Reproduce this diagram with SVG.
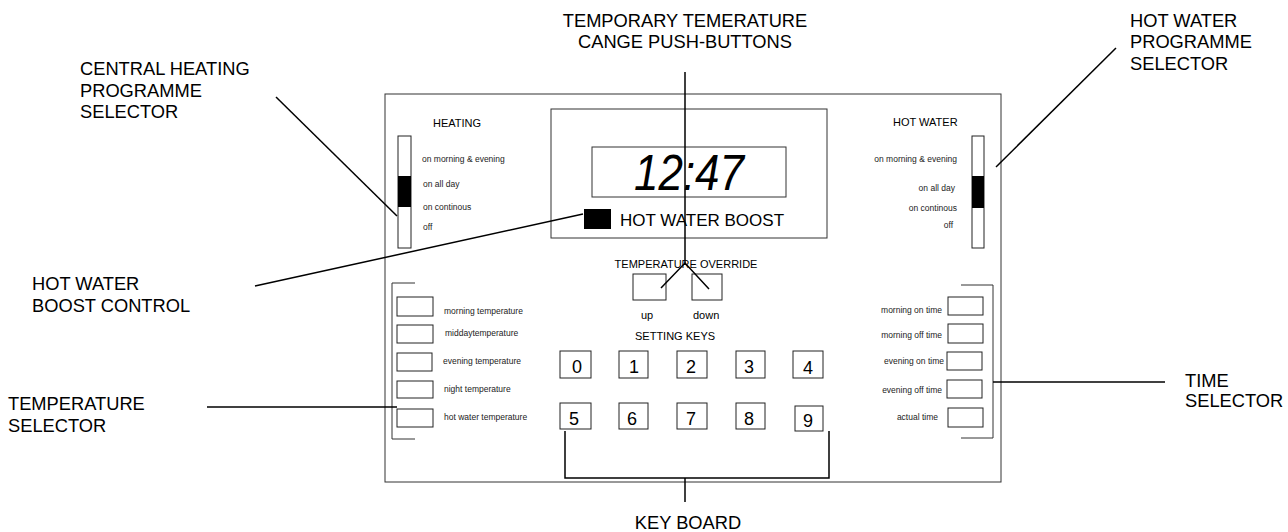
<svg xmlns="http://www.w3.org/2000/svg" width="1288" height="532" viewBox="0 0 1288 532">
<style>
text{font-family:"Liberation Sans",Arial,sans-serif;fill:#000}
.lbl{font-size:18.3px}
.sm{font-size:11px}
.xs{font-size:8.5px;fill:#222}
.key{font-size:18px}
.box{fill:#fff;stroke:#222;stroke-width:1}
.thin{fill:none;stroke:#333;stroke-width:1}
.lead{fill:none;stroke:#000;stroke-width:1.5}
.r{text-anchor:end}
.c{text-anchor:middle}
</style>
<rect width="1288" height="532" fill="#fff"/>
<g id="panel"><rect x="385" y="94" width="616" height="388" class="thin"/></g>
<g id="heating-selector">
<text x="433" y="127" class="sm">HEATING</text>
<rect x="398" y="136" width="13" height="112" class="box"/>
<rect x="398" y="176" width="13" height="31" fill="#000"/>
<text x="422" y="162" class="xs">on morning &amp; evening</text>
<text x="423" y="187" class="xs">on all day</text>
<text x="423" y="210" class="xs">on continous</text>
<text x="423" y="230" class="xs">off</text>
</g>
<g id="hot-water-selector">
<text x="893" y="126" class="sm">HOT WATER</text>
<rect x="972" y="136" width="12" height="112" class="box"/>
<rect x="972" y="176" width="12" height="32" fill="#000"/>
<text x="957" y="162" class="xs r">on morning &amp; evening</text>
<text x="955" y="191" class="xs r">on all day</text>
<text x="957" y="211" class="xs r">on continous</text>
<text x="953" y="228" class="xs r">off</text>
</g>
<g id="display">
<rect x="551" y="109" width="276" height="129" class="thin"/>
<rect x="592" y="147" width="194" height="50" class="thin"/>
<text x="634" y="190" font-size="50" font-style="italic" textLength="110" lengthAdjust="spacingAndGlyphs">12:47</text>
</g>
<g id="hot-water-boost">
<rect x="584" y="209" width="27" height="20" fill="#000"/>
<text x="620" y="226" font-size="17">HOT WATER BOOST</text>
</g>
<g id="temperature-override">
<text x="686" y="268" class="sm c">TEMPERATURE OVERRIDE</text>
<rect x="633" y="274" width="33" height="26" class="box"/>
<rect x="692" y="274" width="30" height="26" class="box"/>
<text x="641" y="319" class="sm">up</text>
<text x="693" y="319" class="sm">down</text>
</g>
<g id="setting-keys">
<text x="635" y="340" class="sm">SETTING KEYS</text>
<rect x="560" y="351" width="31" height="27" class="box"/><text x="572" y="373" class="key">0</text>
<rect x="619" y="351" width="29" height="27" class="box"/><text x="629" y="373" class="key">1</text>
<rect x="677" y="351" width="30" height="27" class="box"/><text x="686" y="373" class="key">2</text>
<rect x="736" y="351" width="29" height="27" class="box"/><text x="744" y="373" class="key">3</text>
<rect x="793" y="351" width="30" height="27" class="box"/><text x="803" y="374" class="key">4</text>
<rect x="560" y="403" width="31" height="26" class="box"/><text x="569" y="425" class="key">5</text>
<rect x="619" y="403" width="29" height="26" class="box"/><text x="627" y="425" class="key">6</text>
<rect x="677" y="403" width="30" height="26" class="box"/><text x="686" y="425" class="key">7</text>
<rect x="736" y="403" width="29" height="26" class="box"/><text x="744" y="425" class="key">8</text>
<rect x="795" y="406" width="28" height="25" class="box"/><text x="803" y="427" class="key">9</text>
</g>
<g id="temperature-selector">
<path d="M415,283 H392 V439 H415" class="thin"/>
<rect x="397" y="297" width="36" height="19" class="box"/>
<rect x="397" y="325" width="36" height="18" class="box"/>
<rect x="397" y="353" width="35" height="18" class="box"/>
<rect x="397" y="381" width="36" height="17" class="box"/>
<rect x="397" y="409" width="36" height="18" class="box"/>
<text x="444" y="314" class="xs">morning temperature</text>
<text x="445" y="336" class="xs">middaytemperature</text>
<text x="443" y="364" class="xs">evening temperature</text>
<text x="444" y="392" class="xs">night temperature</text>
<text x="444" y="420" class="xs">hot water temperature</text>
</g>
<g id="time-selector">
<path d="M961,285 H993 V438 H961" class="thin"/>
<rect x="948" y="297" width="35" height="18" class="box"/>
<rect x="948" y="324" width="35" height="19" class="box"/>
<rect x="947" y="352" width="35" height="18" class="box"/>
<rect x="947" y="380" width="35" height="18" class="box"/>
<rect x="948" y="408" width="35" height="19" class="box"/>
<text x="942" y="313" class="xs r">morning on time</text>
<text x="942" y="338" class="xs r">morning off time</text>
<text x="944" y="364" class="xs r">evening on time</text>
<text x="942" y="393" class="xs r">evening off time</text>
<text x="938" y="420" class="xs r">actual time</text>
</g>
<g id="keyboard-bracket"><path d="M565,431 V478 H829 V431" class="lead"/></g>
<g id="labels">
<text x="685" y="27" class="lbl c">TEMPORARY TEMERATURE</text>
<text x="685" y="48" class="lbl c">CANGE PUSH-BUTTONS</text>
<text x="1130" y="27" class="lbl">HOT WATER</text>
<text x="1130" y="48" class="lbl">PROGRAMME</text>
<text x="1130" y="70" class="lbl">SELECTOR</text>
<text x="80" y="75" class="lbl">CENTRAL HEATING</text>
<text x="80" y="97" class="lbl">PROGRAMME</text>
<text x="80" y="118" class="lbl">SELECTOR</text>
<text x="32" y="290" class="lbl">HOT WATER</text>
<text x="32" y="312" class="lbl">BOOST CONTROL</text>
<text x="8" y="410" class="lbl">TEMPERATURE</text>
<text x="8" y="432" class="lbl">SELECTOR</text>
<text x="1185" y="387" class="lbl">TIME</text>
<text x="1185" y="407" class="lbl">SELECTOR</text>
<text x="688" y="529" class="lbl c">KEY BOARD</text>
</g>
<g id="connectors">
<path d="M685,72 V263" class="lead"/>
<path d="M661,288 L685,263 L709,289" class="lead"/>
<path d="M276,97 L397,216" class="lead"/>
<path d="M1116,48 L996,167" class="lead"/>
<path d="M255,286 L583,214" class="lead"/>
<path d="M207,407 H397" class="lead"/>
<path d="M993,382 H1165" class="lead"/>
<path d="M685,478 V502" class="lead"/>
</g>
</svg>
